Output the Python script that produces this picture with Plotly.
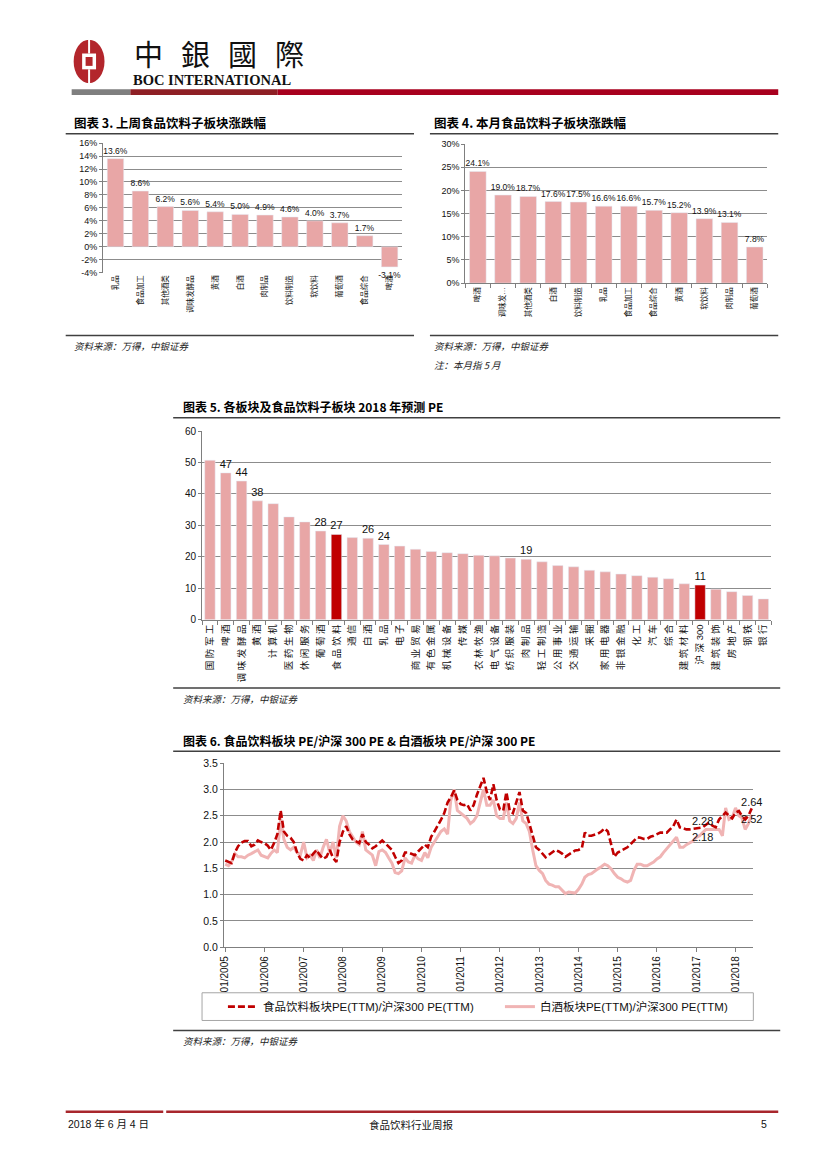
import plotly.graph_objects as go
import pandas as pd

W, H = 827, 1169
def X(p): return p / W
def Y(p): return 1 - p / H

CJK = "Noto Sans CJK SC"
LAT = "Liberation Sans Narrow, Liberation Sans, Noto Sans CJK SC"
PINK = "#E8A6A6"
DARK = "#C00000"
LINE_PINK = "#F0B4B4"

# ---------------- Chart 3 data ----------------
c3_categories = ["乳品", "食品加工", "其他酒类", "调味发酵品", "黄酒", "白酒", "肉制品",
                 "饮料制造", "软饮料", "葡萄酒", "食品综合", "啤酒"]
c3_values = [13.6, 8.6, 6.2, 5.6, 5.4, 5.0, 4.9, 4.6, 4.0, 3.7, 1.7, -3.1]
c3_yticks = [-4, -2, 0, 2, 4, 6, 8, 10, 12, 14, 16]

# ---------------- Chart 4 data ----------------
c4_categories = ["啤酒", "调味发…", "其他酒类", "白酒", "饮料制造", "乳品", "食品加工",
                 "食品综合", "黄酒", "软饮料", "肉制品", "葡萄酒"]
c4_values = [24.1, 19.0, 18.7, 17.6, 17.5, 16.6, 16.6, 15.7, 15.2, 13.9, 13.1, 7.8]
c4_yticks = [0, 5, 10, 15, 20, 25, 30]

# ---------------- Chart 5 data ----------------
c5_categories = ["国防军工", "啤酒", "调味发酵品", "黄酒", "计算机", "医药生物", "休闲服务",
                 "葡萄酒", "食品饮料", "通信", "白酒", "乳品", "电子", "商业贸易", "有色金属",
                 "机械设备", "传媒", "农林牧渔", "电气设备", "纺织服装", "肉制品", "轻工制造",
                 "公用事业", "交通运输", "采掘", "家用电器", "非银金融", "化工", "汽车", "综合",
                 "建筑材料", "沪深300", "建筑装饰", "房地产", "钢铁", "银行"]
c5_values = [50.7, 46.7, 44.1, 37.8, 36.9, 32.7, 31.1, 28.2, 27.1, 26.1, 25.9, 23.9, 23.4,
             22.4, 21.7, 21.3, 21.0, 20.5, 20.3, 19.6, 19.2, 18.4, 17.2, 16.8, 15.7, 15.2,
             14.5, 14.0, 13.5, 13.0, 11.4, 11.0, 9.7, 8.9, 7.7, 6.6]
c5_highlight = ["食品饮料", "沪深300"]
c5_labeled = ["啤酒", "调味发酵品", "黄酒", "葡萄酒", "食品饮料", "白酒", "乳品", "肉制品", "沪深300"]
c5_yticks = [0, 10, 20, 30, 40, 50, 60]

# ---------------- Chart 6 data (monthly, 2005-01 .. 2018-06) ----------------
c6_food = [
    1.65, 1.62, 1.60, 1.80, 1.92, 1.99, 2.02, 2.02, 1.92, 1.95, 2.03, 2.00,   # 2005
    1.98, 1.93, 1.85, 1.98, 2.15, 2.60, 2.20, 2.12, 2.08, 2.00, 1.80, 1.68,   # 2006
    1.65, 1.75, 1.70, 1.78, 1.85, 1.75, 1.68, 1.72, 1.85, 1.70, 1.62, 2.00,   # 2007
    2.20, 2.30, 2.15, 2.05, 2.02, 1.98, 2.15, 2.00, 1.95, 1.88, 1.92, 1.98,   # 2008
    2.03, 1.97, 1.92, 1.85, 1.72, 1.60, 1.65, 1.80, 1.80, 1.78, 1.75, 1.82,   # 2009
    1.88, 1.95, 1.90, 2.10, 2.20, 2.30, 2.42, 2.55, 2.75, 2.85, 2.98, 2.80,   # 2010
    2.72, 2.70, 2.72, 2.60, 2.70, 2.90, 3.05, 3.22, 2.95, 2.80, 3.10, 2.80,   # 2011
    2.62, 2.60, 2.95, 2.60, 2.55, 2.75, 2.95, 2.60, 2.55, 2.35, 2.10, 1.90,   # 2012
    1.85, 1.78, 1.71, 1.76, 1.80, 1.85, 1.82, 1.78, 1.72, 1.76, 1.80, 1.84,   # 2013
    1.85, 1.88, 2.18, 2.12, 2.12, 2.14, 2.16, 2.20, 2.26, 2.20, 1.95, 1.72,   # 2014
    1.80, 1.84, 1.86, 1.90, 1.96, 2.02, 2.09, 2.08, 2.06, 2.06, 2.10, 2.12,   # 2015
    2.15, 2.18, 2.18, 2.18, 2.24, 2.30, 2.43, 2.28, 2.26, 2.24, 2.24, 2.25,   # 2016
    2.26, 2.27, 2.28, 2.33, 2.37, 2.31, 2.28, 2.43, 2.50, 2.56, 2.50, 2.45,   # 2017
    2.56, 2.59, 2.50, 2.43, 2.50, 2.64,                                       # 2018
]
c6_baijiu = [
    1.58, 1.55, 1.62, 1.78, 1.72, 1.72, 1.70, 1.75, 1.78, 1.82, 1.85, 1.75,   # 2005
    1.72, 1.70, 1.78, 1.85, 1.80, 2.45, 2.05, 1.90, 1.85, 1.90, 1.80, 1.75,   # 2006
    2.00, 1.70, 1.75, 1.65, 1.85, 1.70, 1.90, 2.05, 1.80, 2.00, 1.70, 2.30,   # 2007
    2.50, 2.40, 2.20, 2.10, 2.00, 1.95, 2.20, 1.85, 1.80, 1.75, 1.55, 1.82,   # 2008
    1.85, 1.80, 1.70, 1.60, 1.42, 1.40, 1.45, 1.70, 1.62, 1.60, 1.75, 1.68,   # 2009
    1.65, 1.80, 1.70, 1.90, 2.00, 2.10, 2.20, 2.25, 2.15, 2.80, 3.00, 2.60,   # 2010
    2.55, 2.50, 2.45, 2.35, 2.40, 2.50, 2.75, 3.00, 2.70, 2.70, 2.80, 2.50,   # 2011
    2.45, 2.45, 2.75, 2.40, 2.35, 2.45, 2.75, 2.40, 2.35, 2.20, 1.85, 1.55,   # 2012
    1.46, 1.40, 1.27, 1.20, 1.18, 1.15, 1.15, 1.08, 1.02, 1.05, 1.04, 1.03,   # 2013
    1.10, 1.20, 1.33, 1.38, 1.40, 1.45, 1.49, 1.53, 1.58, 1.55, 1.49, 1.40,   # 2014
    1.33, 1.30, 1.26, 1.24, 1.27, 1.46, 1.58, 1.58, 1.55, 1.55, 1.58, 1.62,   # 2015
    1.68, 1.72, 1.80, 1.87, 1.95, 2.02, 2.09, 1.90, 1.90, 1.95, 1.99, 2.02,   # 2016
    2.09, 2.12, 2.18, 2.24, 2.24, 2.24, 2.24, 2.24, 2.12, 2.65, 2.43, 2.46,   # 2017
    2.65, 2.50, 2.46, 2.24, 2.35, 2.52,                                       # 2018
]
c6_start = "2005-01-01"
c6_label_dates = ["2017-03-01", "2018-06-01"]
c6_years = list(range(2005, 2019))
c6_yticks = [0.0, 0.5, 1.0, 1.5, 2.0, 2.5, 3.0, 3.5]
c6_names = ["食品饮料板块PE(TTM)/沪深300 PE(TTM)", "白酒板块PE(TTM)/沪深300 PE(TTM)"]

c6_dates = pd.date_range(c6_start, periods=len(c6_food), freq="MS")
label_set = set(pd.to_datetime(c6_label_dates))
food_text = [f"{v:.2f}" if d in label_set else "" for d, v in zip(c6_dates, c6_food)]
bj_text = [f"{v:.2f}" if d in label_set else "" for d, v in zip(c6_dates, c6_baijiu)]


def spaced(s):
    out = ""
    for i, ch in enumerate(s):
        if i > 0 and not (ch.isdigit() and s[i - 1].isdigit()):
            out += " "
        out += ch
    return out


fig = go.Figure()

# Chart 3
fig.add_trace(go.Bar(
    x=c3_categories, y=c3_values, marker_color=PINK, width=0.66,
    text=[f"{v:.1f}%" for v in c3_values], textposition="outside", cliponaxis=False,
    constraintext="none", textfont=dict(size=8.5, family=LAT, color="#111"),
    xaxis="x", yaxis="y", showlegend=False, hoverinfo="skip"))

# Chart 4
fig.add_trace(go.Bar(
    x=c4_categories, y=c4_values, marker_color=PINK, width=0.66,
    text=[f"{v:.1f}%" for v in c4_values], textposition="outside", cliponaxis=False,
    constraintext="none", textfont=dict(size=8.5, family=LAT, color="#111"),
    xaxis="x2", yaxis="y2", showlegend=False, hoverinfo="skip"))

# Chart 5
fig.add_trace(go.Bar(
    x=c5_categories, y=c5_values,
    marker_color=[DARK if c in c5_highlight else PINK for c in c5_categories], width=0.66,
    text=[f"{v:.0f}" if c in c5_labeled else "" for c, v in zip(c5_categories, c5_values)],
    textposition="outside", cliponaxis=False, constraintext="none",
    textfont=dict(size=11, family=LAT, color="#111"),
    xaxis="x3", yaxis="y3", showlegend=False, hoverinfo="skip"))

# Chart 6 (pink under red)
fig.add_trace(go.Scatter(
    x=c6_dates, y=c6_baijiu, mode="lines+text", name=c6_names[1], legendrank=2,
    line=dict(color=LINE_PINK, width=3), text=bj_text, textposition="bottom center",
    textfont=dict(size=11, family=LAT, color="#111"), cliponaxis=False,
    xaxis="x4", yaxis="y4", hoverinfo="skip"))
fig.add_trace(go.Scatter(
    x=c6_dates, y=c6_food, mode="lines+text", name=c6_names[0], legendrank=1,
    line=dict(color=DARK, width=2.6, dash="7px,3px"), text=food_text,
    textposition="top center", textfont=dict(size=11, family=LAT, color="#111"),
    cliponaxis=False, xaxis="x4", yaxis="y4", hoverinfo="skip"))

GRID = "#8C8C8C"
AX = "#7F7F7F"

def cat_axis(dom, font_size, labels, cats):
    return dict(domain=dom, type="category", tickangle=-90, tickvals=cats, ticktext=labels,
                tickfont=dict(size=font_size, family=LAT, color="#111"),
                showgrid=False, zeroline=False, fixedrange=True,
                range=[-0.5, len(cats) - 0.5])

def val_axis(dom, rng, vals, texts, font_size):
    return dict(domain=dom, range=rng, tickvals=vals, ticktext=texts,
                tickfont=dict(size=font_size, family=LAT, color="#111"),
                showgrid=True, gridcolor=GRID, gridwidth=0.8, zeroline=False,
                showline=True, linecolor=AX, linewidth=1, ticks="outside", ticklen=3,
                tickcolor=AX, fixedrange=True)

xa1 = cat_axis([X(99.5), X(400)], 7.5, c3_categories, c3_categories)
xa1.update(anchor="y", showline=False, ticks="")
ya1 = val_axis([Y(269.5), Y(138.5)], [-4, 16], c3_yticks, [f"{v}%" for v in c3_yticks], 9)
ya1.update(anchor="x")

xa2 = cat_axis([X(463.5), X(767)], 7.5, c4_categories, c4_categories)
xa2.update(anchor="y2", showline=True, linecolor=AX, ticks="outside", tickson="boundaries",
           ticklen=4, tickcolor=AX)
ya2 = val_axis([Y(280), Y(139.5)], [0, 30], c4_yticks, [f"{v}%" for v in c4_yticks], 9)
ya2.update(anchor="x2")

xa3 = cat_axis([X(199), X(771)], 9.5, [spaced(c) for c in c5_categories], c5_categories)
xa3.update(anchor="y3", showline=True, linecolor=AX, ticks="outside", tickson="boundaries",
           ticklen=4, tickcolor=AX)
ya3 = val_axis([Y(620), Y(429.5)], [0, 60], c5_yticks, [str(v) for v in c5_yticks], 10)
ya3.update(anchor="x3")

xa4 = dict(domain=[X(221), X(753)], type="date", range=["2004-12-20", "2018-06-16"],
           tickvals=[f"{y}-01-01" for y in c6_years], ticktext=[f"01/{y}" for y in c6_years],
           tickangle=-90, tickfont=dict(size=10, family=LAT, color="#111"),
           showgrid=False, zeroline=False, showline=True, linecolor=AX, ticks="outside",
           ticklen=4, tickcolor=AX, anchor="y4", fixedrange=True)
ya4 = val_axis([Y(951), Y(765)], [0, 3.5], c6_yticks, [f"{v:.1f}" for v in c6_yticks], 10.5)
ya4.update(anchor="x4")

shapes = []
def rect(x0, y0, x1, y1, color, layer="above"):
    shapes.append(dict(type="rect", xref="paper", yref="paper", x0=X(x0), x1=X(x1),
                       y0=Y(y1), y1=Y(y0), fillcolor=color, line=dict(width=0), layer=layer))
def hline(x0, x1, y, color="#404040", width=1.5):
    shapes.append(dict(type="line", xref="paper", yref="paper", x0=X(x0), x1=X(x1),
                       y0=Y(y), y1=Y(y), line=dict(color=color, width=width)))

# Header logo
LOGO_RED = "#B3262C"
shapes.append(dict(type="circle", xref="paper", yref="paper", x0=X(70), x1=X(101),
                   y0=Y(78), y1=Y(34), fillcolor=LOGO_RED, line=dict(width=0)))
rect(78.5, 48, 92.5, 64, "white")
rect(82, 51.5, 89, 60.5, LOGO_RED)
rect(84.5, 33, 86.5, 48, "white")
rect(84.5, 64, 86.5, 79, "white")
# Header bar
rect(68, 84, 127, 90, "#7F7F7F")
rect(127, 84, 275, 90, "#8E1F24")
rect(275, 84, 778, 90, "#A8001E")

# Chart frames
hline(62, 412, 129)
hline(428, 778, 129)
hline(62, 412, 333)
hline(428, 778, 333)
hline(170, 780, 416)
hline(170, 780, 689)
hline(170, 780, 753)
hline(170, 780, 1035)
# Legend box chart 6
shapes.append(dict(type="rect", xref="paper", yref="paper", x0=X(199), x1=X(753),
                   y0=Y(1025), y1=Y(997), line=dict(color="#A6A6A6", width=1),
                   fillcolor="rgba(0,0,0,0)"))
# Footer lines
rect(62, 1116, 160, 1118.5, "#A8262C")
rect(163, 1116, 778, 1118.5, "#A8262C")

ann = []
def text(x, y, s, size, family=CJK, anchor="left", color="#000", bold=False, italic=False):
    ann.append(dict(xref="paper", yref="paper", x=X(x), y=Y(y), text=f"<b>{s}</b>" if bold else s,
                    showarrow=False, xanchor=anchor, yanchor="middle",
                    font=dict(size=size, family=family, color=color,
                              style="italic" if italic else "normal")))

# Header text
logo_chars = ["中", "銀", "國", "際"]
for i, ch in enumerate(logo_chars):
    text(129 + i * 47, 47, ch, 29, family="Noto Sans CJK TC", color="#111")
text(128, 75, "BOC INTERNATIONAL", 14.5, family="Liberation Serif", color="#111", bold=True)

# Titles
text(68, 118, "图表 3. 上周食品饮料子板块涨跌幅", 12.5, bold=True)
text(430, 118, "图表 4. 本月食品饮料子板块涨跌幅", 12.5, bold=True)
text(178, 405, "图表 5. 各板块及食品饮料子板块 2018 年预测 PE", 12, bold=True)
text(178, 742, "图表 6. 食品饮料板块 PE/沪深 300 PE &amp; 白酒板块 PE/沪深 300 PE", 12, bold=True)

# Sources
SRC = "资料来源：万得，中银证券"
text(68, 344, SRC, 9.5, color="#222", italic=True)
text(430, 344, SRC, 9.5, color="#222", italic=True)
text(430, 363, "注：本月指 5 月", 9.5, color="#222", italic=True)
text(178, 700, SRC, 9.5, color="#222", italic=True)
text(178, 1046, SRC, 9.5, color="#222", italic=True)

# Footer
text(62, 1130, "2018 年 6 月 4 日", 10.5, family=LAT, color="#111")
text(409, 1130, "食品饮料行业周报", 10.5, anchor="center", color="#111")
text(769, 1130, "5", 10.5, family=LAT, anchor="right", color="#111")

fig.update_layout(
    width=W, height=H, autosize=False, margin=dict(l=0, r=0, t=0, b=0),
    paper_bgcolor="white", plot_bgcolor="white",
    xaxis=xa1, yaxis=ya1, xaxis2=xa2, yaxis2=ya2, xaxis3=xa3, yaxis3=ya3,
    xaxis4=xa4, yaxis4=ya4,
    bargap=0.34,
    shapes=shapes, annotations=ann,
    showlegend=True,
    legend=dict(orientation="h", x=X(220), xanchor="left", y=Y(1011), yanchor="middle",
                entrywidth=232, entrywidthmode="pixels", bgcolor="rgba(0,0,0,0)",
                font=dict(size=11.5, family=LAT, color="#111"), itemclick=False,
                itemdoubleclick=False),
    font=dict(family=LAT),
)

fig.write_html("out.html", config={"displayModeBar": False},
               post_script="document.body.style.margin='0';document.body.style.overflow='hidden';")
